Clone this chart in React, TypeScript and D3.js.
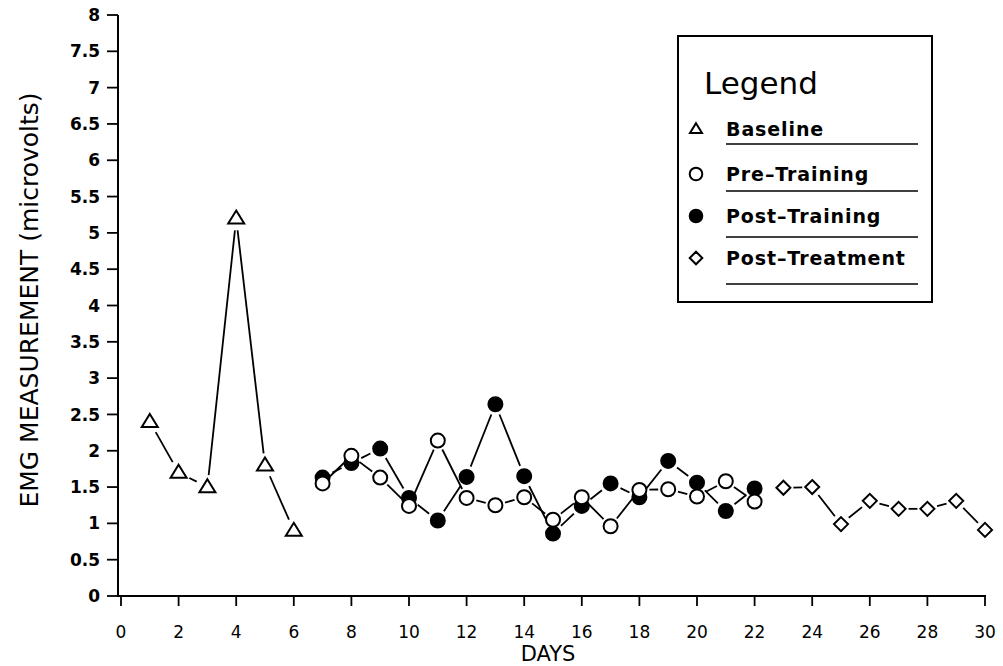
import React, { useEffect, useRef } from "react";
import * as d3 from "d3";

const baselineDays = [1, 2, 3, 4, 5, 6];
const baselineValues = [2.4, 1.7, 1.5, 5.2, 1.8, 0.9];

const trainingDays = [7, 8, 9, 10, 11, 12, 13, 14, 15, 16, 17, 18, 19, 20, 21, 22];
const preTrainingValues = [1.55, 1.93, 1.63, 1.24, 2.14, 1.35, 1.25, 1.36, 1.05, 1.36, 0.96, 1.46, 1.47, 1.37, 1.58, 1.3];
const postTrainingValues = [1.63, 1.83, 2.03, 1.35, 1.04, 1.64, 2.64, 1.65, 0.86, 1.24, 1.55, 1.36, 1.86, 1.56, 1.17, 1.48];

const treatmentDays = [23, 24, 25, 26, 27, 28, 29, 30];
const postTreatmentValues = [1.49, 1.5, 0.99, 1.31, 1.2, 1.2, 1.31, 0.91];

const yTicks = [0, 0.5, 1, 1.5, 2, 2.5, 3, 3.5, 4, 4.5, 5, 5.5, 6, 6.5, 7, 7.5, 8];
const xTicks = [0, 2, 4, 6, 8, 10, 12, 14, 16, 18, 20, 22, 24, 26, 28, 30];

const legendLabels = ["Baseline", "Pre-Training", "Post-Training", "Post-Treatment"];

const FONT = "'DejaVu Sans', sans-serif";

type Shape = "triangle" | "circle" | "dot" | "diamond";

export default function App() {
  const ref = useRef<SVGSVGElement | null>(null);

  useEffect(() => {
    const svg = d3.select(ref.current);
    svg.selectAll("*").remove();

    const x = d3.scaleLinear().domain([0, 30]).range([121, 985]);
    const y = d3.scaleLinear().domain([0, 8]).range([596, 15]);

    const g = svg.append("g");

    // axes
    g.append("line").attr("x1", 118).attr("x2", 118).attr("y1", y(8)).attr("y2", y(0) + 1)
      .attr("stroke", "#000").attr("stroke-width", 2);
    g.append("line").attr("x1", 117).attr("x2", x(30) + 1).attr("y1", y(0)).attr("y2", y(0))
      .attr("stroke", "#000").attr("stroke-width", 2);

    yTicks.forEach((t) => {
      g.append("line").attr("x1", 107).attr("x2", 118).attr("y1", y(t)).attr("y2", y(t))
        .attr("stroke", "#000").attr("stroke-width", 1.8);
      g.append("text").attr("x", 100).attr("y", y(t)).attr("dy", "0.36em")
        .attr("text-anchor", "end").attr("font-family", FONT).attr("font-size", 17)
        .attr("font-weight", "bold").text(String(t));
    });

    xTicks.forEach((t) => {
      g.append("line").attr("x1", x(t)).attr("x2", x(t)).attr("y1", y(0)).attr("y2", y(0) + 10)
        .attr("stroke", "#000").attr("stroke-width", 1.8);
      g.append("text").attr("x", x(t)).attr("y", 638)
        .attr("text-anchor", "middle").attr("font-family", FONT).attr("font-size", 17)
        .text(String(t));
    });

    g.append("text").attr("x", 548).attr("y", 661).attr("text-anchor", "middle")
      .attr("font-family", FONT).attr("font-size", 21).text("DAYS");

    g.append("text")
      .attr("transform", `translate(38, 300) rotate(-90)`)
      .attr("text-anchor", "middle").attr("font-family", FONT).attr("font-size", 25)
      .text("EMG MEASUREMENT (microvolts)");

    // markers
    const drawMarker = (sel: d3.Selection<SVGGElement, unknown, null, undefined>, shape: Shape, cx: number, cy: number, s = 1) => {
      if (shape === "triangle") {
        const h = 13 * s, w = 16 * s;
        sel.append("path")
          .attr("d", `M${cx},${cy - h * 0.6} L${cx + w / 2},${cy + h * 0.4} L${cx - w / 2},${cy + h * 0.4} Z`)
          .attr("fill", "#fff").attr("stroke", "#000").attr("stroke-width", 2);
      } else if (shape === "circle" || shape === "dot") {
        sel.append("circle").attr("cx", cx).attr("cy", cy).attr("r", 7 * s)
          .attr("fill", shape === "dot" ? "#000" : "#fff").attr("stroke", "#000").attr("stroke-width", 2);
      } else {
        const r = 7 * s;
        sel.append("path")
          .attr("d", `M${cx},${cy - r} L${cx + r},${cy} L${cx},${cy + r} L${cx - r},${cy} Z`)
          .attr("fill", "#fff").attr("stroke", "#000").attr("stroke-width", 2);
      }
    };

    const drawSeries = (days: number[], values: number[], shape: Shape, gap: number) => {
      const pts = days.map((d, i) => [x(d), y(values[i])] as [number, number]);
      const lg = g.append("g");
      for (let i = 0; i < pts.length - 1; i++) {
        const [x1, y1] = pts[i];
        const [x2, y2] = pts[i + 1];
        const len = Math.hypot(x2 - x1, y2 - y1);
        if (len <= gap * 2) continue;
        const ux = (x2 - x1) / len, uy = (y2 - y1) / len;
        lg.append("line")
          .attr("x1", x1 + ux * gap).attr("y1", y1 + uy * gap)
          .attr("x2", x2 - ux * gap).attr("y2", y2 - uy * gap)
          .attr("stroke", "#000").attr("stroke-width", 1.8);
      }
      const mg = g.append("g");
      pts.forEach(([px, py]) => drawMarker(mg, shape, px, py));
    };

    drawSeries(baselineDays, baselineValues, "triangle", 12);
    drawSeries(trainingDays, postTrainingValues, "dot", 11);
    drawSeries(trainingDays, preTrainingValues, "circle", 10);
    drawSeries(treatmentDays, postTreatmentValues, "diamond", 10);

    // legend
    const lg = g.append("g");
    lg.append("rect").attr("x", 678).attr("y", 36).attr("width", 254).attr("height", 266)
      .attr("fill", "#fff").attr("stroke", "#000").attr("stroke-width", 2);
    lg.append("text").attr("x", 704).attr("y", 94).attr("font-family", FONT)
      .attr("font-size", 31).text("Legend");
    const shapes: Shape[] = ["triangle", "circle", "dot", "diamond"];
    const rowY = [129, 174, 216, 258];
    const lineY = [144, 191, 237, 284];
    legendLabels.forEach((label, i) => {
      drawMarker(lg, shapes[i], 696, rowY[i], i === 0 ? 0.75 : 0.9);
      lg.append("text").attr("x", 726).attr("y", rowY[i]).attr("dy", "0.36em")
        .attr("font-family", FONT).attr("font-size", 19).attr("font-weight", 600)
        .attr("letter-spacing", 0.9).text(label.replace("-", "\u2013"));
      lg.append("line").attr("x1", 726).attr("x2", 918).attr("y1", lineY[i]).attr("y2", lineY[i])
        .attr("stroke", "#000").attr("stroke-width", 1.5);
    });
  }, []);

  return (
    <svg ref={ref} width={1003} height={666}
      style={{ position: "absolute", left: 0, top: 0, background: "#fff" }} />
  );
}
